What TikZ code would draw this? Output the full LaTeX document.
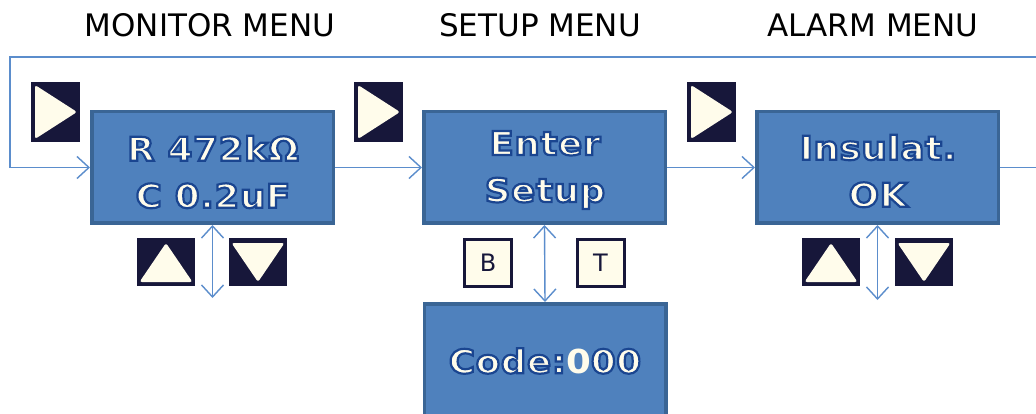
\documentclass[tikz,border=0pt]{standalone}
\usepackage{fontspec}
\setmainfont{DejaVu Sans}
\newfontfamily\boxfont{DejaVu Sans}[FakeStretch=1.08, LetterSpace=2]
\newcommand\outlinetext[1]{\special{pdf:literal direct 2 Tr 2.2 w 0.102 0.271 0.565 RG}#1\special{pdf:literal direct 0 Tr}}
\usetikzlibrary{arrows.meta}
\definecolor{boxfill}{HTML}{4F81BD}
\definecolor{boxborder}{HTML}{3A6595}
\definecolor{linecol}{HTML}{5B8DCC}
\definecolor{navy}{HTML}{17173A}
\definecolor{cream}{HTML}{FFFCEB}
\tikzset{
  menubox/.style={draw=boxborder, line width=3.5pt, fill=boxfill, minimum width=241.5pt, minimum height=111.5pt, inner sep=0pt},
  boxtext/.style={inner sep=0pt, align=center, text=cream, font=\boxfont\bfseries\fontsize{33}{47}\selectfont},
  title/.style={font=\fontsize{31}{36}\selectfont, text=black},
  conn/.style={draw=linecol, line width=1.4pt, -{Straight Barb[length=12pt,width=22pt]}},
  dconn/.style={draw=linecol, line width=1.4pt, {Straight Barb[length=12pt,width=22pt]}-{Straight Barb[length=12pt,width=22pt]}},
  plainline/.style={draw=linecol, line width=1.4pt},
  navybtn/.style={fill=navy, inner sep=0pt},
  letterbtn/.style={draw=navy, line width=3pt, fill=cream, minimum size=47pt, inner sep=0pt, text=navy, font=\fontsize{24}{28}\selectfont},
  tri/.style={fill=cream, rounded corners=2.5pt}
}
\begin{document}
\begin{tikzpicture}[x=1pt, y=-1pt]
\useasboundingbox (0,0) rectangle (1036,414);
\fill[white] (0,0) rectangle (1036,414);

% titles
\node[title] (t1) at (210,25) {MONITOR MENU};
\node[title] (t2) at (540,25) {SETUP MENU};
\node[title] (t3) at (873,25) {ALARM MENU};

% menu boxes
\node[menubox] (m1) at (212.5,167.5) {};
\node[menubox] (m2) at (544.5,167.5) {};
\node[menubox] (m3) at (877.5,167.5) {};
\node[menubox] (m4) at (545,359.5) {};
\node[boxtext] (m1t) at (213,172) {\outlinetext{R 472kΩ}\\\outlinetext{C 0.2uF}};
\node[boxtext] (m2t) at (545,170) {\outlinetext{Enter}\\\outlinetext{Setup}};
\node[boxtext] (m3t) at (878,171) {\outlinetext{Insulat.}\\\outlinetext{OK}};
\node[boxtext] (m4t) at (545,361) {\outlinetext{Code:}0\outlinetext{00}};

% connectors
\coordinate (tr) at (1040,57);
\coordinate (tl) at (10,57);
\coordinate (re) at (1040,167.5);
\draw[conn] (tr) -- (tl) |- (m1.west);
\draw[conn] (m1.east) -- (m2.west);
\draw[conn] (m2.east) -- (m3.west);
\draw[plainline] (m3.east) -- (re);

\coordinate (d1) at (212.5,298);
\coordinate (d3) at (877.5,300);
\draw[dconn] (m1.south) -- (d1);
\draw[dconn] (m2.south) -- (m4.north);
\draw[dconn] (m3.south) -- (d3);

% right buttons
\node[navybtn, minimum width=49pt, minimum height=60pt] (r1) at (55.5,112) {};
\node[navybtn, minimum width=49pt, minimum height=60pt] (r2) at (378.5,112) {};
\node[navybtn, minimum width=49pt, minimum height=60pt] (r3) at (711.5,112) {};
\foreach \n in {r1,r2,r3}{
  \begin{scope}[shift={(\n.center)}]
    \fill[tri] (-20.5,-27) -- (21.5,0) -- (-20.5,27) -- cycle;
  \end{scope}
}

% up / down buttons
\node[navybtn, minimum width=58pt, minimum height=48pt] (u1) at (166,262) {};
\node[navybtn, minimum width=58pt, minimum height=48pt] (w1) at (258,262) {};
\node[navybtn, minimum width=58pt, minimum height=48pt] (u3) at (831,262) {};
\node[navybtn, minimum width=58pt, minimum height=48pt] (w3) at (924,262) {};
\foreach \n in {u1,u3}{
  \begin{scope}[shift={(\n.center)}]
    \fill[tri] (0,-19) -- (26.5,20) -- (-26.5,20) -- cycle;
  \end{scope}
}
\foreach \n in {w1,w3}{
  \begin{scope}[shift={(\n.center)}]
    \fill[tri] (-26.5,-19) -- (26.5,-19) -- (0,20) -- cycle;
  \end{scope}
}

% B / T buttons
\node[letterbtn] (bb) at (488,263) {B};
\node[letterbtn] (tt) at (600.5,263) {T};
\end{tikzpicture}
\end{document}
